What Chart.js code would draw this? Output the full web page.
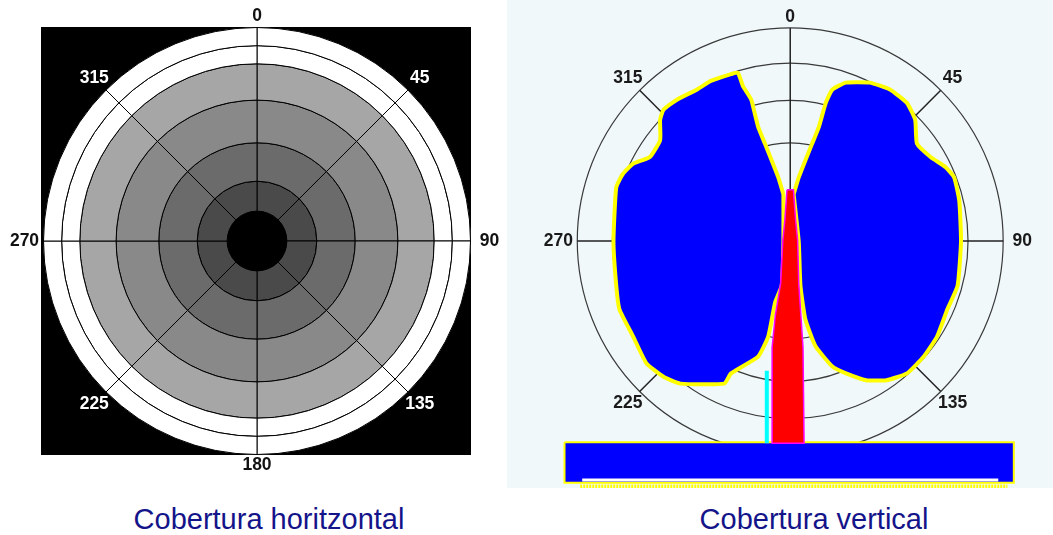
<!DOCTYPE html>
<html lang="es">
<head>
<meta charset="utf-8">
<title>Cobertura horitzontal / vertical</title>
<script src="https://cdn.jsdelivr.net/npm/chart.js@4.4.1/dist/chart.umd.min.js"></script>
<style>
  body { margin: 0; width: 1053px; height: 535px; position: relative; background: #fff; overflow: hidden; font-family: "Liberation Sans", Arial, sans-serif; }
  canvas { position: absolute; top: 0; }
  #horizontal { left: 0; }
  #vertical { left: 507px; background: #f0f8fa; }
  .titulo { position: absolute; top: 505px; width: 400px; text-align: center; font-size: 29px; line-height: 29px; color: #14148a; }
</style>
</head>
<body>
<canvas id="horizontal" width="507" height="490"></canvas>
<canvas id="vertical" width="546" height="488"></canvas>
<div class="titulo" style="left:69px">Cobertura horitzontal</div>
<div class="titulo" style="left:614px">Cobertura vertical</div>
<script>
// ========== DATOS ==========
const direcciones = [0, 45, 90, 135, 180, 225, 270, 315];
const etiquetasDir = ["0", "45", "90", "135", "180", "225", "270", "315"];

// cobertura horizontal: anillos en radio relativo (de fuera hacia dentro)
const sectoresH = [45, 45, 45, 45, 45, 45, 45, 45];
const anillosH = [100, 91.5, 83, 66, 46, 28, 14];
const grisesH = ["#ffffff", "#ffffff", "#a6a6a6", "#898989", "#6b6b6b", "#4a4a4a"];

// cobertura vertical (mismo radio relativo, 100 = circulo exterior)
const circulosV = [46, 66, 83.5, 100];
const etiquetasV = ["0", "45", "90", "135", "", "225", "270", "315"];
const ejeX = [-133, 123.4];
const ejeY = [-116, 113.1];

const loboIzqX = [-3.2, -5.6, -8.7, -11.9, -15.1, -16.7, -18.3, -22.2, -24.6, -27.8, -37.3, -43.7, -53.2, -59.5, -61.1, -61.1, -65.9, -73.8, -78.6, -81.7, -83.0, -81.7, -80.2, -73.8, -67.5, -59.5, -51.6, -31.0, -27.8, -15.1, -10.3, -7.1, -4.0, -3.2];
const loboIzqY = [21.9, 29.8, 37.8, 45.7, 53.7, 60.0, 66.3, 72.7, 79.0, 78.3, 75.1, 71.1, 66.3, 61.6, 56.8, 47.3, 39.4, 36.2, 31.4, 25.1, -0.3, -21.0, -32.1, -44.8, -57.5, -63.8, -67.0, -67.0, -62.2, -54.3, -44.8, -28.9, -21.0, -0.3];

const loboDerX = [1.6, 4.0, 7.1, 10.3, 13.5, 16.7, 19.8, 26.2, 37.3, 46.8, 54.8, 58.7, 59.5, 65.9, 73.0, 77.0, 79.4, 80.2, 78.6, 73.8, 69.0, 62.7, 54.8, 45.2, 35.7, 26.2, 19.8, 11.9, 7.1, 4.8, 4.0];
const loboDerY = [21.9, 29.8, 37.8, 45.7, 53.7, 64.8, 71.1, 74.3, 74.3, 71.1, 64.8, 56.8, 45.7, 39.4, 34.6, 29.8, 18.7, -0.3, -21.0, -32.1, -44.8, -54.3, -62.2, -65.4, -65.4, -62.2, -59.0, -49.5, -36.8, -21.0, -0.3];

const hazX = [-1.5, -2.5, -3.5, -4.5, -7, -8.5, -8.5, 6.5, 6, 5, 4, 3.5, 2.5, 1.5];
const hazY = [24, 10, 0, -20, -35, -50, -95, -95, -50, -35, -20, 0, 10, 24];
const cianX = [-11, -11];
const cianY = [-61, -95];

const barraX = [-106, 105];
const barraY = [-94.5, -113.5];
const lineaBlancaX = [-97.7, 97.7];
const lineaBlancaY = [-112.2, -112.2];
const franjaX = [-98.6, 102];
const franjaY = [-115.3, -115.3];

// ========== AUXILIARES ==========
function puntos(xs, ys) {
  return xs.map((x, i) => ({ x: x, y: ys[i] }));
}
function cerrar(p) {
  return p.concat([p[0]]);
}
function rectangulo(xs, ys) {
  return cerrar(puntos([xs[0], xs[1], xs[1], xs[0]], [ys[0], ys[0], ys[1], ys[1]]));
}

function dibujarEtiquetas(ctx, cx, cy, R, textos, colorDe) {
  ctx.save();
  ctx.font = "bold 17.5px 'Liberation Sans', Arial, sans-serif";
  ctx.textAlign = "center";
  ctx.textBaseline = "middle";
  direcciones.forEach((a, i) => {
    if (!textos[i]) return;
    const rad = a * Math.PI / 180;
    const d = R + 11 + 8 * Math.abs(Math.sin(rad));
    ctx.fillStyle = colorDe(a);
    ctx.fillText(textos[i], cx + d * Math.sin(rad), cy - d * Math.cos(rad));
  });
  ctx.restore();
}

// ========== COBERTURA HORIZONTAL ==========
const fondoNegro = {
  id: "fondoNegro",
  beforeDatasetsDraw(chart) {
    const arco = chart.getDatasetMeta(0).data[0];
    const R = arco.outerRadius;
    const ctx = chart.ctx;
    ctx.save();
    ctx.fillStyle = "#000";
    ctx.fillRect(arco.x - R - 2.5, arco.y - R - 0.5, 2 * R + 3, 2 * R + 1);
    ctx.restore();
  },
  afterDraw(chart) {
    const arco = chart.getDatasetMeta(0).data[0];
    dibujarEtiquetas(chart.ctx, arco.x, arco.y, arco.outerRadius, etiquetasDir, a => (a % 90 === 0 ? "#111" : "#fff"));
  }
};

const datasetsH = grisesH.map((color, i) => ({
  data: sectoresH,
  backgroundColor: color,
  borderColor: "#000",
  borderWidth: 1,
  weight: anillosH[i] - anillosH[i + 1]
}));

new Chart(document.getElementById("horizontal"), {
  type: "doughnut",
  data: { labels: etiquetasDir, datasets: datasetsH },
  options: {
    responsive: false,
    animation: false,
    events: [],
    devicePixelRatio: 1,
    cutout: anillosH[anillosH.length - 1] + "%",
    layout: { padding: { left: 43, top: 27, right: 36, bottom: 35 } },
    plugins: { legend: { display: false }, tooltip: { enabled: false } }
  },
  plugins: [fondoNegro]
});

// ========== COBERTURA VERTICAL ==========
const rejillaPolar = {
  id: "rejillaPolar",
  beforeDatasetsDraw(chart) {
    const { ctx, scales: { x, y } } = chart;
    const cx = x.getPixelForValue(0), cy = y.getPixelForValue(0);
    const k = x.getPixelForValue(1) - cx;
    const rMax = circulosV[circulosV.length - 1] * k;
    ctx.save();
    ctx.strokeStyle = "#3a3a3a";
    ctx.lineWidth = 1.2;
    circulosV.forEach(r => {
      ctx.beginPath();
      ctx.arc(cx, cy, r * k, 0, 2 * Math.PI);
      ctx.stroke();
    });
    ctx.strokeStyle = "#222";
    ctx.lineWidth = 1.5;
    direcciones.forEach(a => {
      const rad = a * Math.PI / 180;
      ctx.beginPath();
      ctx.moveTo(cx, cy);
      ctx.lineTo(cx + rMax * Math.sin(rad), cy - rMax * Math.cos(rad));
      ctx.stroke();
    });
    ctx.restore();
  },
  afterDraw(chart) {
    const { x, y } = chart.scales;
    const cx = x.getPixelForValue(0), cy = y.getPixelForValue(0);
    const R = x.getPixelForValue(circulosV[circulosV.length - 1]) - cx;
    dibujarEtiquetas(chart.ctx, cx, cy, R, etiquetasV, () => "#1a1a1a");
  }
};

new Chart(document.getElementById("vertical"), {
  type: "scatter",
  data: {
    datasets: [
      { data: cerrar(puntos(hazX, hazY)), backgroundColor: "#ff0000", borderColor: "#ff00ff", borderWidth: 1.5, fill: "shape", showLine: true, clip: false },
      { data: puntos(cianX, cianY), borderColor: "#00ffff", borderWidth: 4, fill: false, showLine: true, clip: false },
      { data: cerrar(puntos(loboIzqX, loboIzqY)), backgroundColor: "#0000ff", borderColor: "#ffff00", borderWidth: 4, fill: "shape", showLine: true, tension: 0.15, clip: false },
      { data: cerrar(puntos(loboDerX, loboDerY)), backgroundColor: "#0000ff", borderColor: "#ffff00", borderWidth: 4, fill: "shape", showLine: true, tension: 0.15, clip: false },
      { data: puntos(lineaBlancaX, lineaBlancaY), borderColor: "#ffffff", borderWidth: 3, fill: false, showLine: true, clip: false },
      { data: puntos(franjaX, franjaY), borderColor: "#ffff00", borderWidth: 4, borderDash: [2, 1], fill: false, showLine: true, clip: false },
      { data: rectangulo(barraX, barraY), backgroundColor: "#0000ff", borderColor: "#ffff00", borderWidth: 2, fill: "shape", showLine: true, clip: false }
    ]
  },
  options: {
    responsive: false,
    animation: false,
    events: [],
    devicePixelRatio: 1,
    elements: { point: { radius: 0 } },
    layout: { padding: 0 },
    scales: {
      x: { type: "linear", min: ejeX[0], max: ejeX[1], display: false },
      y: { type: "linear", min: ejeY[0], max: ejeY[1], display: false }
    },
    plugins: { legend: { display: false }, tooltip: { enabled: false } }
  },
  plugins: [rejillaPolar]
});
</script>
</body>
</html>
